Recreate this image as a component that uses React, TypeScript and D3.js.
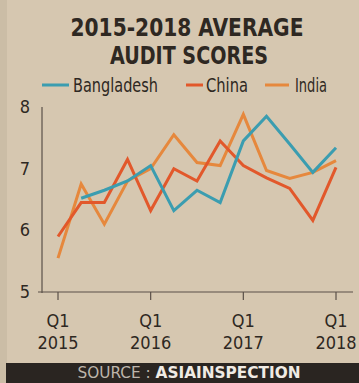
import React from "react";
import * as d3 from "d3";

const quarters = ["Q1 2015","Q2 2015","Q3 2015","Q4 2015","Q1 2016","Q2 2016","Q3 2016","Q4 2016","Q1 2017","Q2 2017","Q3 2017","Q4 2017","Q1 2018"];
const bangladesh: (number | null)[] = [null, 6.52, 6.65, 6.8, 7.05, 6.32, 6.65, 6.45, 7.45, 7.85, 7.4, 6.94, 7.34];
const china: (number | null)[] = [5.9, 6.45, 6.45, 7.15, 6.32, 7.0, 6.8, 7.45, 7.05, 6.85, 6.68, 6.16, 7.02];
const india: (number | null)[] = [5.55, 6.75, 6.1, 6.8, 7.0, 7.55, 7.1, 7.05, 7.88, 6.97, 6.84, 6.94, 7.13];
const yTicks = [5, 6, 7, 8];
const xTickIdx = [0, 4, 8, 12];
const xTickLabels = [["Q1", "2015"], ["Q1", "2016"], ["Q1", "2017"], ["Q1", "2018"]];
const seriesNames = ["Bangladesh", "China", "India"];
const titleLines = ["2015-2018 AVERAGE", "AUDIT SCORES"];

const W = 359, H = 383;
const BG = "#d6c7b0";
const INK = "#2e2822";
const colors = ["#3b9db0", "#e2582b", "#e6883d"];
const FONT = "'Liberation Sans Narrow', 'DejaVu Sans Condensed', 'Arial Narrow', sans-serif";

export default function App() {
  const x = d3.scaleLinear().domain([0, quarters.length - 1]).range([58, 336]);
  const y = d3.scaleLinear().domain([5, 8]).range([292, 107]);
  const line = d3.line<number | null>()
    .defined((d) => d != null)
    .x((_, i) => x(i))
    .y((d) => y(d as number));
  const series = [bangladesh, china, india];

  return (
    <svg width={W} height={H} style={{ position: "absolute", left: 0, top: 0, display: "block" }}>
      <rect x={0} y={0} width={W} height={H} fill={BG} />
      <rect x={0} y={0} width={7} height={H} fill="#cbbda6" />
      {/* title */}
      <text x={187} y={36} textAnchor="middle" fontFamily={FONT} fontWeight="bold" fontSize={25} fill={INK}
        textLength={233} lengthAdjust="spacingAndGlyphs">{titleLines[0]}</text>
      <text x={189} y={64} textAnchor="middle" fontFamily={FONT} fontWeight="bold" fontSize={25} fill={INK}
        textLength={158} lengthAdjust="spacingAndGlyphs">{titleLines[1]}</text>
      {/* legend */}
      {[{ x1: 42, x2: 69, tx: 73, tl: 85 }, { x1: 186, x2: 203, tx: 206, tl: 42 }, { x1: 265, x2: 289, tx: 295, tl: 32 }].map((l, i) => (
        <g key={seriesNames[i]}>
          <line x1={l.x1} x2={l.x2} y1={85} y2={85} stroke={colors[i]} strokeWidth={3} />
          <text x={l.tx} y={92} fontFamily={FONT} fontSize={19} fill={INK} textLength={l.tl} lengthAdjust="spacingAndGlyphs">{seriesNames[i]}</text>
        </g>
      ))}
      {/* axes */}
      <line x1={42} x2={42} y1={107} y2={293} stroke="#5a5048" strokeWidth={1.2} />
      <line x1={38} x2={353} y1={292} y2={292} stroke="#5a5048" strokeWidth={1.2} />
      {yTicks.map((t) => (
        <text key={t} x={25} y={y(t) + 6} textAnchor="middle" fontFamily={FONT} fontSize={18} fill={INK}>{t}</text>
      ))}
      {xTickIdx.map((idx, k) => (
        <g key={idx}>
          <line x1={x(idx)} x2={x(idx)} y1={292} y2={300} stroke="#5a5048" strokeWidth={1.2} />
          <text x={x(idx)} y={327} textAnchor="middle" fontFamily={FONT} fontSize={18} fill={INK}>{xTickLabels[k][0]}</text>
          <text x={x(idx)} y={349} textAnchor="middle" fontFamily={FONT} fontSize={18} fill={INK}>{xTickLabels[k][1]}</text>
        </g>
      ))}
      {/* lines */}
      {[2, 1, 0].map((i) => (
        <path key={i} d={line(series[i]) || ""} fill="none" stroke={colors[i]} strokeWidth={3} strokeLinejoin="miter" />
      ))}
      {/* source bar */}
      <rect x={6} y={363} width={W - 6} height={20} fill="#2a2521" />
      <text x={189} y={378} textAnchor="middle" fontFamily={FONT} fontSize={15} fill="#bdb5ab"
        textLength={223} lengthAdjust="spacingAndGlyphs">
        <tspan>SOURCE : </tspan>
        <tspan fontWeight="bold" fill="#f0ebe4">ASIAINSPECTION</tspan>
      </text>
    </svg>
  );
}
